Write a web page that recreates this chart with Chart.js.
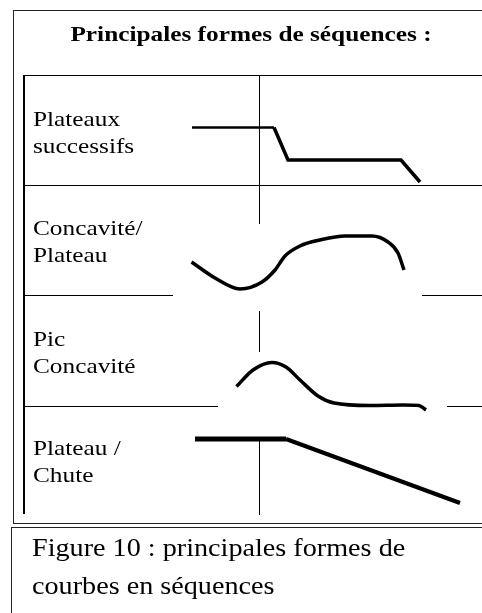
<!DOCTYPE html>
<html>
<head>
<meta charset="utf-8">
<script src="https://cdn.jsdelivr.net/npm/chart.js@4.4.1/dist/chart.umd.min.js"></script>
<style>
  html, body { margin: 0; padding: 0; background: #fff; }
  canvas { display: block; }
</style>
</head>
<body>
<canvas id="chart" width="482" height="613"></canvas>
<script>
// texts
const title = "Principales formes de séquences :";
const rowLabels = [
  ["Plateaux", "successifs"],
  ["Concavité/", "Plateau"],
  ["Pic", "Concavité"],
  ["Plateau /", "Chute"]
];
const caption = ["Figure 10 : principales formes de", "courbes en séquences"];

// curve sketches (page units, y grows downward)
const plateauxSuccessifs = [
  { x: 192, y: 127.5 }, { x: 274, y: 127.5 }, { x: 288, y: 160 },
  { x: 401, y: 160 }, { x: 420, y: 182 }
];
const concavitePlateau = [
  { x: 191.5, y: 262 }, { x: 215, y: 278 }, { x: 240, y: 289 }, { x: 262, y: 282 },
  { x: 275, y: 270 }, { x: 285, y: 256 }, { x: 300, y: 246 }, { x: 320, y: 240 },
  { x: 345, y: 236 }, { x: 372, y: 236 }, { x: 388, y: 242 }, { x: 398, y: 253 },
  { x: 404, y: 270 }
];
const picConcavite = [
  { x: 236.5, y: 386.5 }, { x: 253, y: 370 }, { x: 272, y: 362.5 }, { x: 286, y: 367 },
  { x: 300, y: 380 }, { x: 318, y: 396 }, { x: 334, y: 403 }, { x: 370, y: 405.5 },
  { x: 403, y: 405 }, { x: 419, y: 405.5 }, { x: 426, y: 410 }
];
const plateauChute = [
  { x: 195, y: 439 }, { x: 286, y: 439 }, { x: 460, y: 503 }
];

// frame and table rules (null breaks the line)
const frameRules = [
  { x: 482, y: 10.5 }, { x: 13.5, y: 10.5 }, { x: 13.5, y: 523.5 }, { x: 482, y: 523.5 }, { x: 0, y: null },
  { x: 482, y: 527.5 }, { x: 11.5, y: 527.5 }, { x: 11.5, y: 613 }
];
const tableRules = [
  { x: 23, y: 75.5 }, { x: 482, y: 75.5 }, { x: 0, y: null },
  { x: 23, y: 185.5 }, { x: 482, y: 185.5 }, { x: 0, y: null },
  { x: 23, y: 295.5 }, { x: 173, y: 295.5 }, { x: 0, y: null },
  { x: 422, y: 295.5 }, { x: 482, y: 295.5 }, { x: 0, y: null },
  { x: 23, y: 406.5 }, { x: 218, y: 406.5 }, { x: 0, y: null },
  { x: 447, y: 406.5 }, { x: 482, y: 406.5 }, { x: 0, y: null },
  { x: 259.5, y: 75.5 }, { x: 259.5, y: 224 }, { x: 0, y: null },
  { x: 259.5, y: 311 }, { x: 259.5, y: 352 }, { x: 0, y: null },
  { x: 259.5, y: 441 }, { x: 259.5, y: 515 }
];
const tableLeft = [{ x: 24, y: 75 }, { x: 24, y: 514 }];

const SX = 1.15; // the scanned figure is stretched horizontally

function line(data, width, extra) {
  return Object.assign({
    data: data,
    borderColor: "#000",
    borderWidth: width,
    pointRadius: 0,
    tension: 0,
    spanGaps: false,
    showLine: true,
    clip: false
  }, extra || {});
}

const textPlugin = {
  id: "texts",
  afterDraw(chart) {
    const ctx = chart.ctx;
    const put = (txt, x, y, font, align) => {
      ctx.save();
      ctx.font = font;
      ctx.fillStyle = "#000";
      ctx.textBaseline = "alphabetic";
      const w = ctx.measureText(txt).width * SX;
      const left = align === "center" ? x - w / 2 : x;
      ctx.translate(left, y);
      ctx.scale(SX, 1);
      ctx.fillText(txt, 0, 0);
      ctx.restore();
    };
    put(title, 251, 41, "bold 22px 'Liberation Serif'", "center");
    const rowBase = [126, 235, 346, 455];
    rowLabels.forEach((lines, i) => {
      lines.forEach((t, j) => put(t, 33, rowBase[i] + j * 27, "22px 'Liberation Serif'"));
    });
    caption.forEach((t, j) => put(t, 32, 556 + j * 38, "24.5px 'Liberation Serif'"));
  }
};

new Chart(document.getElementById("chart"), {
  type: "scatter",
  data: {
    datasets: [
      line(frameRules, 1, { borderColor: "#222" }),
      line(tableRules, 1),
      line(tableLeft, 2),
      line(plateauxSuccessifs, 3, {
        segment: { borderWidth: c => (c.p0DataIndex === 0 ? 2.5 : 3.5) }
      }),
      line(concavitePlateau, 3.5, { cubicInterpolationMode: "monotone" }),
      line(picConcavite, 3.5, { cubicInterpolationMode: "monotone" }),
      line(plateauChute, 4, {
        segment: { borderWidth: c => (c.p0DataIndex === 0 ? 5 : 4) }
      })
    ]
  },
  options: {
    responsive: false,
    animation: false,
    layout: { padding: 0 },
    plugins: { legend: { display: false }, tooltip: { enabled: false } },
    scales: {
      x: { type: "linear", min: 0, max: 482, display: false },
      y: { type: "linear", min: 0, max: 613, reverse: true, display: false }
    }
  },
  plugins: [textPlugin]
});
</script>
</body>
</html>
